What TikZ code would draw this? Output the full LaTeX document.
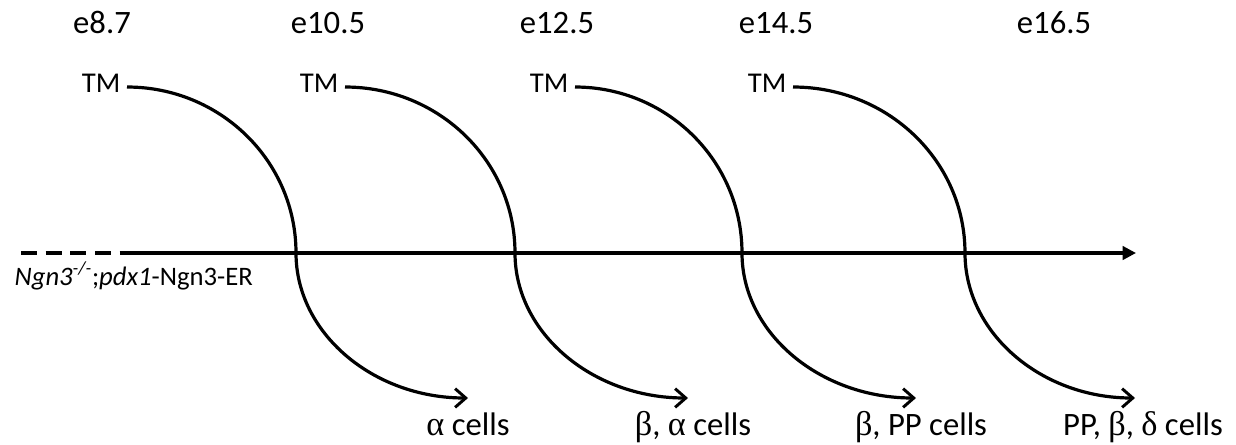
\documentclass[tikz,border=0pt]{standalone}
\usepackage{fontspec}
\setmainfont{Carlito}
\newfontfamily\grk[Scale=1.05]{Liberation Serif}
\usetikzlibrary{arrows.meta, positioning, calc}
\newcommand{\gr}[1]{{\grk #1}}

\begin{document}
\begin{tikzpicture}[x=0.75pt, y=-0.75pt, line width=2.4pt,
    lbl/.style={inner sep=0pt, font=\fontsize{21.5}{26}\selectfont},
    daylbl/.style={inner sep=0pt, font=\fontsize{24.5}{29}\selectfont},
    tmflow/.style={line width=2.4pt, -{Straight Barb[length=8pt, width=14pt, line width=2.2pt]}}]
  \useasboundingbox (0,0) rectangle (1236,444);
  % time points along the top
  \foreach \j/\x/\t in {a/102/e8.7, b/328/e10.5, c/557/e12.5, d/776/e14.5, e/1054/e16.5}
    \node[daylbl, anchor=base] (day\j) at (\x,33) {\t};
  % genotype line
  \coordinate (g0) at (21,253);
  \coordinate (g1) at (177,253);
  \coordinate (g2) at (122,253);
  \coordinate (gend) at (1136,253);
  \draw[dash pattern=on 12pt off 6.5pt] (g0) -- (g1);
  \draw[-{Triangle[length=10pt, width=10pt]}] (g2) -- (gend);
  \node[lbl, font=\fontsize{20}{24}\selectfont, anchor=base west] (geno) at (13,285)
    {\textit{Ngn3}\textsuperscript{\itshape -/-};\textit{pdx1}-Ngn3-ER};
  % tamoxifen pulses
  \foreach \i/\s/\c/\e/\l/\txt in {1/127/296/468/468/{\gr{α} cells},
      2/345/515/688/693/{\gr{β}, \gr{α} cells},
      3/575/742/916/921/{\gr{β}, PP cells},
      4/793/965/1135/1143/{PP, \gr{β}, \gr{δ} cells}}{
    \pgfmathsetmacro{\ca}{\s+0.552*(\c-\s)}
    \pgfmathsetmacro{\cb}{\e-0.552*(\e-\c)}
    \coordinate (s\i) at (\s,87);
    \coordinate (x\i) at (\c,253);
    \coordinate (t\i) at (\e,398);
    \node[lbl, anchor=base east] (tm\i) at (\s-5,92) {TM};
    \node[daylbl, anchor=base] (cell\i) at (\l,435) {\txt};
    \draw[tmflow] (s\i) .. controls (\ca,87) and (\c,161) .. (x\i)
      .. controls (\c,333) and (\cb,398) .. (t\i);
  }
\end{tikzpicture}
\end{document}
